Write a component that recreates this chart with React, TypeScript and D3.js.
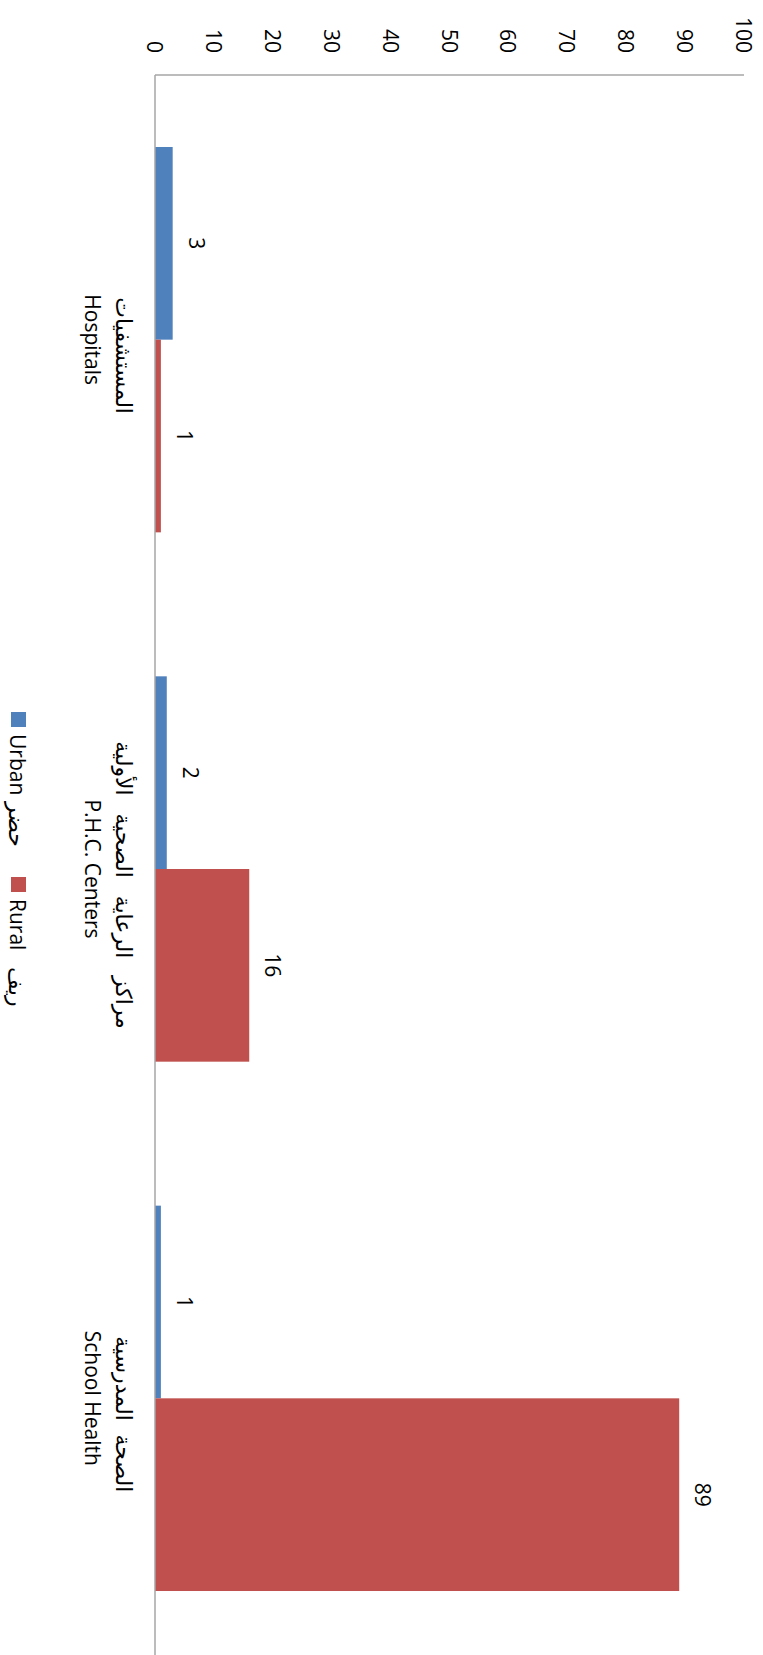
import React from "react";
import * as d3 from "d3";

const categoriesAr = ["المستشفيات", "مراكز الرعاية الصحية الأولية", "الصحة المدرسية"];
const categoriesEn = ["Hospitals", "P.H.C. Centers", "School Health"];
const seriesEn = ["Urban", "Rural"];
const seriesAr = ["حضر", "ريف"];
const urbanValues = [3, 2, 1];
const ruralValues = [1, 16, 89];
const valueTicks = [0, 10, 20, 30, 40, 50, 60, 70, 80, 90, 100];
const seriesColors = ["#4F81BD", "#C0504D"];

const SW = 763;
const SH = 1655;
const FONT = "'Open Sans', 'DejaVu Sans', sans-serif";

export default function App() {
  // unrotated frame: width = SH, height = SW; rotated 90deg clockwise
  const x0 = d3
    .scaleBand<string>()
    .domain(categoriesEn)
    .range([75, 1663])
    .paddingInner(0.272)
    .paddingOuter(0.136);
  const x1 = d3
    .scaleBand<string>()
    .domain(seriesEn)
    .range([0, x0.bandwidth()]);
  const y = d3.scaleLinear().domain([0, 100]).range([608, 19]);
  const seriesValues = [urbanValues, ruralValues];
  const axisColor = "#A6A6A6";

  return (
    <svg
      width={SW}
      height={SH}
      style={{ position: "absolute", left: 0, top: 0, background: "#fff" }}
      fontFamily={FONT}
    >
      <g transform={`translate(${SW},0) rotate(90)`}>
        {/* bars */}
        {categoriesEn.map((c, ci) =>
          seriesEn.map((s, si) => {
            const v = seriesValues[si][ci];
            const bx = (x0(c) as number) + (x1(s) as number);
            return (
              <g key={c + s}>
                <rect
                  x={bx}
                  y={y(v)}
                  width={x1.bandwidth()}
                  height={y(0) - y(v)}
                  fill={seriesColors[si]}
                />
                <text
                  x={bx + x1.bandwidth() / 2}
                  y={y(v) - 24}
                  textAnchor="middle"
                  dominantBaseline="central"
                  fontSize={21}
                  fill="#000"
                >
                  {v}
                </text>
              </g>
            );
          })
        )}
        {/* value axis */}
        <line x1={75} x2={75} y1={y(0)} y2={y(100)} stroke={axisColor} strokeWidth={1.5} />
        {valueTicks.map((t) => (
          <text
            key={t}
            x={53}
            y={y(t)}
            textAnchor="end"
            dominantBaseline="central"
            fontSize={21}
            fill="#000"
          >
            {t}
          </text>
        ))}
        {/* category axis */}
        <line x1={75} x2={1663} y1={y(0)} y2={y(0)} stroke={axisColor} strokeWidth={1.5} />
        {categoriesEn.map((c, ci) => {
          const cx = (x0(c) as number) + x0.bandwidth() / 2;
          return (
            <g key={c}>
              <text
                x={cx + 16}
                y={638}
                textAnchor="middle"
                dominantBaseline="central"
                fontSize={22}
                wordSpacing={ci === 1 ? 12 : 8}
                fill="#000"
              >
                {categoriesAr[ci]}
              </text>
              <text
                x={cx}
                y={670}
                textAnchor="middle"
                dominantBaseline="central"
                fontSize={21}
                fill="#000"
              >
                {c}
              </text>
            </g>
          );
        })}
        {/* legend */}
        {seriesEn.map((s, si) => {
          const lx = [712, 877][si];
          return (
            <g key={s}>
              <rect x={lx} y={737} width={15} height={15} fill={seriesColors[si]} />
              <text
                x={lx + 22}
                y={745}
                dominantBaseline="central"
                fontSize={21}
                fill="#000"
              >
                {s}
              </text>
              <text
                x={[802, 967][si]}
                y={745}
                dominantBaseline="central"
                fontSize={22}
                fill="#000"
              >
                {seriesAr[si]}
              </text>
            </g>
          );
        })}
      </g>
    </svg>
  );
}
